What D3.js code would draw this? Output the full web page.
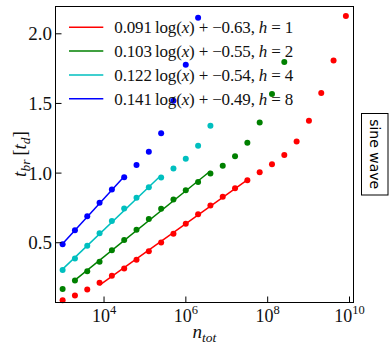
<!DOCTYPE html>
<html>
<head>
<meta charset="utf-8">
<script src="https://cdn.jsdelivr.net/npm/d3@7"></script>
<style>
  body { margin: 0; background: #fff; }
  text { font-family: "Liberation Serif", serif; fill: #111; }
</style>
</head>
<body>
<div id="chart"></div>
<script>
// total number of particles (doubling each step)
var nTot = [1e3, 2e3, 4e3, 8e3, 1.6e4, 3.2e4, 6.4e4, 1.28e5, 2.56e5, 5.12e5,
            1.024e6, 2.048e6, 4.096e6, 8.192e6, 1.6384e7, 3.2768e7, 6.5536e7,
            1.31072e8, 2.62144e8, 5.24288e8, 1.048576e9, 2.097152e9,
            4.194304e9, 8.388608e9];

// break time for each h
var tH1 = [0.084, 0.118, 0.161, 0.209, 0.259, 0.312, 0.374, 0.435, 0.499, 0.561,
           0.633, 0.701, 0.764, 0.827, 0.888, 0.945, 1.003, 1.060, 1.127, 1.223,
           1.372, 1.571, 1.804, 2.125];
var tH2 = [0.165, 0.226, 0.291, 0.360, 0.442, 0.516, 0.590, 0.667, 0.740, 0.806,
           0.873, 0.933, 0.993, 1.050, 1.118, 1.214, 1.360, 1.564, 1.794];
var tH4 = [0.300, 0.384, 0.475, 0.564, 0.653, 0.742, 0.820, 0.895, 0.964, 1.029,
           1.099, 1.192, 1.336];
var tH8 = [0.485, 0.586, 0.686, 0.784, 0.878, 0.967, 1.055, 1.149, 1.283, 1.516,
           1.775, 2.111];

var hValues = [1, 2, 4, 8];
var slopes = ['0.091', '0.103', '0.122', '0.141'];
var offsets = ['0.63', '0.55', '0.54', '0.49'];
// first and last point used by the fit
var fitStart = [3, 1, 0, 0];
var fitEnd = [15, 12, 8, 5];
var colors = ['#ff0000', '#008000', '#00bfbf', '#0000ff'];

var xTicks = [1e4, 1e6, 1e8, 1e10];
var yTicks = [0.5, 1.0, 1.5, 2.0];

var series = [tH1, tH2, tH4, tH8];

var width = 390, height = 351;
var svg = d3.select('#chart').append('svg')
    .attr('width', width).attr('height', height);

var x = d3.scaleLog().domain([Math.pow(10, 2.826), Math.pow(10, 10.122)]).range([55.5, 354]);
var y = d3.scaleLinear().domain([0.066, 2.196]).range([302.7, 6]);

// fitted lines (least squares in log x)
series.forEach(function(vals, s) {
    var pts = [];
    for (var i = fitStart[s]; i <= fitEnd[s]; i++) pts.push([Math.log(nTot[i]), vals[i]]);
    var mx = d3.mean(pts, function(p) { return p[0]; });
    var my = d3.mean(pts, function(p) { return p[1]; });
    var sxy = d3.sum(pts, function(p) { return (p[0] - mx) * (p[1] - my); });
    var sxx = d3.sum(pts, function(p) { return (p[0] - mx) * (p[0] - mx); });
    var a = sxy / sxx, b = my - a * mx;
    var ends = [nTot[fitStart[s]], nTot[fitEnd[s]]];
    svg.append('path')
        .attr('d', d3.line()
            .x(function(d) { return x(d); })
            .y(function(d) { return y(a * Math.log(d) + b); })(ends))
        .attr('fill', 'none')
        .attr('stroke', colors[s])
        .attr('stroke-width', 1.5);
});

// dots
series.forEach(function(vals, s) {
    svg.append('g').selectAll('circle')
        .data(vals)
        .enter()
        .append('circle')
        .attr('cx', function(d, i) { return x(nTot[i]); })
        .attr('cy', function(d) { return y(d); })
        .attr('r', 3)
        .style('fill', colors[s]);
});

// frame
svg.append('rect')
    .attr('x', 55.5).attr('y', 6.5)
    .attr('width', 298).attr('height', 296)
    .attr('fill', 'none').attr('stroke', '#000').attr('stroke-width', 1);

// x axis
var gx = svg.append('g')
    .attr('transform', 'translate(0,302.5)')
    .call(d3.axisBottom(x).tickValues(xTicks).tickSizeInner(-6).tickSizeOuter(0));
gx.select('.domain').remove();
gx.selectAll('.tick line').attr('stroke', '#000');
gx.selectAll('.tick text').remove();
gx.selectAll('.tick').append('text')
    .attr('y', 19.5)
    .attr('text-anchor', 'middle')
    .style('font-size', '18px')
    .each(function(d) {
        var t = d3.select(this);
        t.append('tspan').text('10');
        t.append('tspan').attr('dy', -8).style('font-size', '12.5px')
            .text(Math.round(Math.log10(d)));
    });

// y axis
var gy = svg.append('g')
    .attr('transform', 'translate(55.5,0)')
    .call(d3.axisLeft(y).tickValues(yTicks).tickSizeInner(-6).tickSizeOuter(0));
gy.select('.domain').remove();
gy.selectAll('.tick line').attr('stroke', '#000');
gy.selectAll('.tick text').remove();
gy.selectAll('.tick').append('text')
    .attr('x', -3.5).attr('y', 6.4)
    .attr('text-anchor', 'end')
    .style('font-size', '19px')
    .text(function(d) { return d.toFixed(1); });

// axis labels
var xl = svg.append('text')
    .attr('x', 204.5).attr('y', 337.5)
    .attr('text-anchor', 'middle')
    .style('font-size', '19px');
xl.append('tspan').style('font-style', 'italic').text('n');
xl.append('tspan').attr('dy', 4).style('font-size', '13.5px').style('font-style', 'italic').text('tot');

var yl = svg.append('text')
    .attr('transform', 'translate(26,154) rotate(-90)')
    .attr('text-anchor', 'middle')
    .style('font-size', '19px');
yl.append('tspan').style('font-style', 'italic').text('t');
yl.append('tspan').attr('dy', 4).style('font-size', '13.5px').style('font-style', 'italic').text('br');
yl.append('tspan').attr('dy', -4).text('\u2009[');
yl.append('tspan').style('font-style', 'italic').text('t');
yl.append('tspan').attr('dy', 4).style('font-size', '13.5px').style('font-style', 'italic').text('d');
yl.append('tspan').attr('dy', -4).text(']');

// legend
hValues.forEach(function(h, i) {
    var ry = 27.3 + 23.8 * i;
    svg.append('line')
        .attr('x1', 69).attr('x2', 103.3)
        .attr('y1', ry).attr('y2', ry)
        .attr('stroke', colors[i]).attr('stroke-width', 1.5);
    var t = svg.append('text')
        .attr('x', 114.3).attr('y', ry + 6)
        .attr('textLength', 179)
        .attr('lengthAdjust', 'spacing')
        .style('font-size', '17px');
    t.append('tspan').text(slopes[i] + '\u2009log(');
    t.append('tspan').style('font-style', 'italic').text('x');
    t.append('tspan').text(') + \u2212' + offsets[i] + ', ');
    t.append('tspan').style('font-style', 'italic').text('h');
    t.append('tspan').text(' = ' + h);
});

// side box
svg.append('rect')
    .attr('x', 361.5).attr('y', 113.5)
    .attr('width', 26.5).attr('height', 81.5)
    .attr('fill', '#fff').attr('stroke', '#000').attr('stroke-width', 1);
svg.append('text')
    .attr('transform', 'translate(370,154.2) rotate(90)')
    .attr('text-anchor', 'middle')
    .style('font-family', '"DejaVu Sans", sans-serif')
    .style('font-size', '14px')
    .style('fill', '#000')
    .text('sine wave');
</script>
</body>
</html>
